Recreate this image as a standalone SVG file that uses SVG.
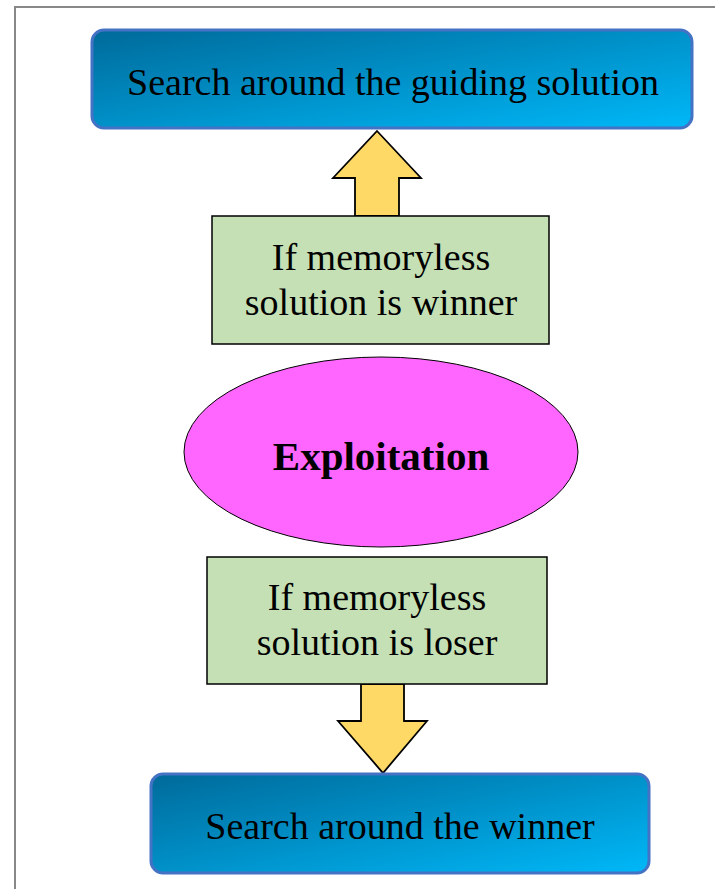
<svg xmlns="http://www.w3.org/2000/svg" width="715" height="889" viewBox="0 0 715 889">
<defs>
<linearGradient id="blue" x1="0" y1="0" x2="1" y2="1">
<stop offset="0" stop-color="#006A9A"/>
<stop offset="1" stop-color="#00B8F8"/>
</linearGradient>
<style>
.blue{fill:url(#blue);stroke:#4472C4;stroke-width:3}
.green{fill:#C5E0B4;stroke:#000;stroke-width:1.5}
.arrow{fill:#FFD966;stroke:#000;stroke-width:1.8;stroke-linejoin:miter}
.t{font-family:"Liberation Serif","Times New Roman",serif;fill:#000;text-anchor:middle}
</style>
</defs>
<rect x="0" y="0" width="715" height="889" fill="#fff"/>
<rect x="15" y="7" width="720" height="900" fill="none" stroke="#888" stroke-width="2"/>
<g id="connectors">
<polygon class="arrow" points="377,131 421,178 399,178 399,216 355,216 355,178 333,178"/>
<polygon class="arrow" points="361,684 404,684 404,721 427,721 383,773 338,721 361,721"/>
</g>
<g id="top">
<rect class="blue" x="92" y="30" width="600" height="98" rx="12"/>
<text class="t" x="393" y="95" font-size="38">Search around the guiding solution</text>
</g>
<g id="cond-winner">
<rect class="green" x="212" y="216" width="337" height="128"/>
<text class="t" x="381" y="270" font-size="38">If memoryless</text>
<text class="t" x="381" y="315" font-size="38">solution is winner</text>
</g>
<g id="exploitation">
<ellipse cx="381" cy="452" rx="197" ry="95" fill="#FF66FF" stroke="#000" stroke-width="1"/>
<text class="t" x="381" y="470" font-size="41" font-weight="bold">Exploitation</text>
</g>
<g id="cond-loser">
<rect class="green" x="207" y="557" width="340" height="127"/>
<text class="t" x="377" y="610" font-size="38">If memoryless</text>
<text class="t" x="377" y="655" font-size="38">solution is loser</text>
</g>
<g id="bottom">
<rect class="blue" x="151" y="774" width="498" height="99" rx="12"/>
<text class="t" x="400" y="839" font-size="38">Search around the winner</text>
</g>
</svg>
